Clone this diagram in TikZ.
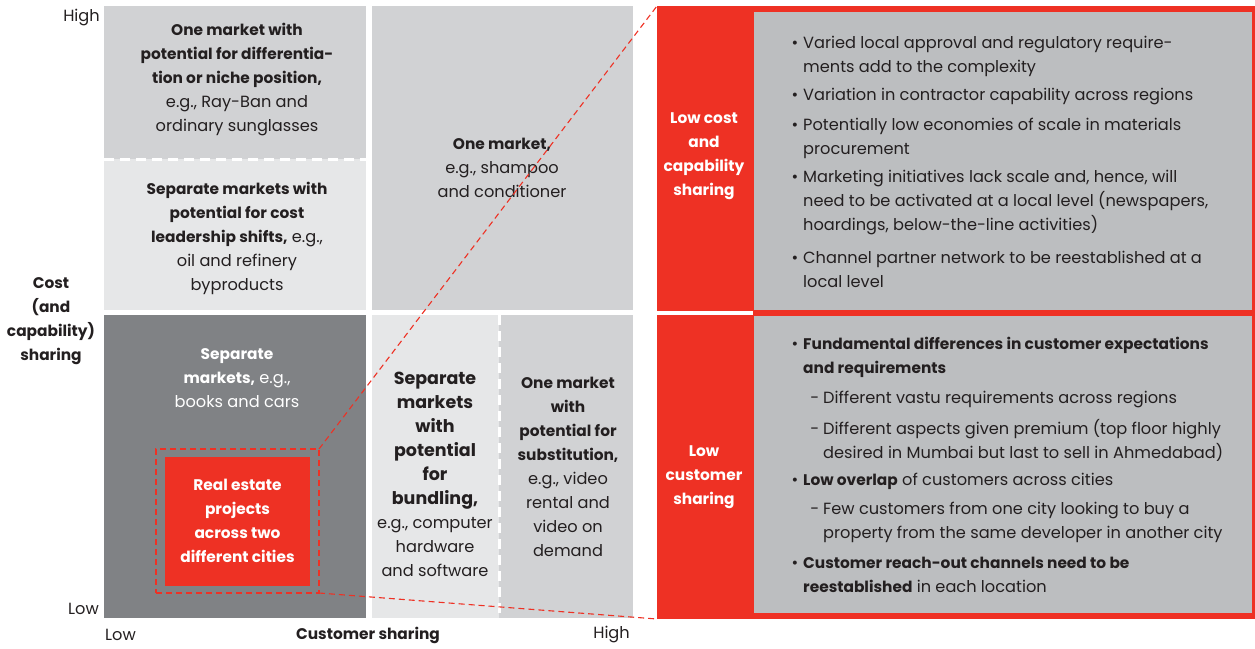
\documentclass[tikz,border=0pt]{standalone}
\usepackage{fontspec}
\setmainfont{Poppins}[BoldFeatures={Scale=0.95}]
\definecolor{ink}{HTML}{231F20}
\definecolor{glight}{HTML}{E6E7E8}
\definecolor{gmid}{HTML}{D1D2D4}
\definecolor{gdark}{HTML}{808285}
\definecolor{gpanel}{HTML}{BCBEC0}
\definecolor{redc}{HTML}{EE3124}
\newcommand\bigb[1]{{\fontsize{18.4}{24}\selectfont\bfseries #1}}
\tikzset{
  txt/.style={align=center, inner sep=0pt, text=ink, font=\fontsize{16.2}{24}\selectfont},
  wtxt/.style={txt, text=white},
  item/.style={anchor=west, align=left, inner sep=0pt, text=ink, font=\fontsize{16.2}{24}\selectfont},
  reddash/.style={draw=redc, line width=1.1pt, dash pattern=on 6pt off 4pt},
  whitedash/.style={draw=white, line width=3pt, dash pattern=on 10pt off 6pt},
  boxnode/.style={anchor=north west, inner sep=0pt, outer sep=0pt},
}
\begin{document}
\begin{tikzpicture}[x=1pt,y=-1pt]
\useasboundingbox (0,0) rectangle (1255,648);
% left grid cells
\fill[gmid]   (104,6)   rectangle (366,159);
\fill[glight] (104,159) rectangle (366,310);
\fill[gmid]   (372,6)   rectangle (633,310);
\fill[gdark]  (104,315) rectangle (366,618);
\fill[glight] (372,315) rectangle (499,618);
\fill[gmid]   (499,315) rectangle (633,618);
\draw[whitedash] (104,159) -- (366,159);
\draw[whitedash] (499,315) -- (499,618);
% cell texts
\node[txt] (ta) at (237,80) {\textbf{One market with}\\\textbf{potential for differentia-}\\\textbf{tion or niche position,}\\e.g., Ray-Ban and\\ordinary sunglasses};
\node[txt] (tb) at (237,238) {\textbf{Separate markets with}\\\textbf{potential for cost}\\\textbf{leadership shifts,} e.g.,\\oil and refinery\\byproducts};
\node[txt] (tc) at (502,168) {\textbf{One market,}\\e.g., shampoo\\and conditioner};
\node[wtxt] (td) at (237,378) {\textbf{Separate}\\\textbf{markets,} e.g.,\\books and cars};
\node[txt] (te) at (435,474.5) {\bigb{Separate}\\\bigb{markets}\\\bigb{with}\\\bigb{potential}\\\bigb{for}\\\bigb{bundling,}\\e.g., computer\\hardware\\and software};
\node[txt] (tf) at (568,467) {\textbf{One market}\\\textbf{with}\\\textbf{potential for}\\\textbf{substitution,}\\e.g., video\\rental and\\video on\\demand};
% focus box
\node[boxnode, reddash, minimum width=163pt, minimum height=144pt] (focus) at (156,449) {};
\node[boxnode, fill=redc, minimum width=145pt, minimum height=129pt] (re) at (165,457) {};
\node[wtxt] (tre) at (237.5,520.5) {\textbf{Real estate}\\\textbf{projects}\\\textbf{across two}\\\textbf{different cities}};
% axes
\node[txt, anchor=east] (yhigh) at (100,18) {High};
\node[txt, anchor=east] (ylow) at (99,609) {Low};
\node[txt, anchor=west] (xlow) at (105,635) {Low};
\node[txt] (xlab) at (368,635) {\textbf{Customer sharing}};
\node[txt, anchor=east] (xhigh) at (630,635) {High};
\node[txt] (ylab) at (51,321) {\textbf{Cost}\\\textbf{(and}\\\textbf{capability)}\\\textbf{sharing}};
% right panel
\node[boxnode, fill=redc, minimum width=598pt, minimum height=613pt] (panel) at (657,6) {};
\fill[gpanel] (754,12) rectangle (1252,310);
\fill[gpanel] (754,316) rectangle (1252,613);
\fill[white] (657,311) rectangle (753,315);
\node[wtxt] (l1) at (704,156) {\textbf{Low cost}\\\textbf{and}\\\textbf{capability}\\\textbf{sharing}};
\node[wtxt] (l2) at (704,477) {\textbf{Low}\\\textbf{customer}\\\textbf{sharing}};
% top bullets
\node[item] (b1) at (803,56) {\llap{\textbullet\hspace{5pt}}Varied local approval and regulatory require-\\ments add to the complexity};
\node[item] (b2) at (803,97) {\llap{\textbullet\hspace{5pt}}Variation in contractor capability across regions};
\node[item] (b3) at (803,138) {\llap{\textbullet\hspace{5pt}}Potentially low economies of scale in materials\\procurement};
\node[item] (b4) at (803,203) {\llap{\textbullet\hspace{5pt}}Marketing initiatives lack scale and, hence, will\\need to be activated at a local level (newspapers,\\hoardings, below-the-line activities)};
\node[item] (b5) at (803,269) {\llap{\textbullet\hspace{5pt}}Channel partner network to be reestablished at a\\local level};
% bottom bullets
\node[item] (c1) at (803,357) {\llap{\textbullet\hspace{5pt}}\textbf{Fundamental differences in customer expectations}\\\textbf{and requirements}};
\node[item] (c2) at (823,399) {\llap{-\hspace{4pt}}Different vastu requirements across regions};
\node[item] (c3) at (823,440) {\llap{-\hspace{4pt}}Different aspects given premium (top floor highly\\desired in Mumbai but last to sell in Ahmedabad)};
\node[item] (c4) at (803,481) {\llap{\textbullet\hspace{5pt}}\textbf{Low overlap} of customers across cities};
\node[item] (c5) at (823,522) {\llap{-\hspace{4pt}}Few customers from one city looking to buy a\\property from the same developer in another city};
\node[item] (c6) at (803,575) {\llap{\textbullet\hspace{5pt}}\textbf{Customer reach-out channels need to be}\\\textbf{reestablished} in each location};
% connectors
\draw[reddash] (focus.north east) -- (panel.north west);
\draw[reddash] (focus.south east) -- (panel.south west);
\end{tikzpicture}
\end{document}
